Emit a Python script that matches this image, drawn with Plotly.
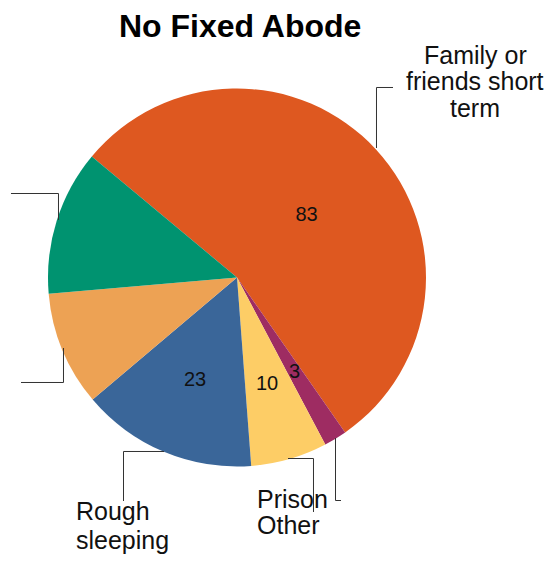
import math
import plotly.graph_objects as go

# ---- data ----
categories = ["Family or friends short term", "Other", "Prison", "Rough sleeping", "Unlabelled A", "Unlabelled B"]
values = [83, 3, 10, 23, 15, 19]
shown_values = ["83", "3", "10", "23", "", ""]
colors = ["#DE5820", "#9E2C62", "#FDCD66", "#3A6699", "#EDA254", "#009370"]
start_angle = -50.2  # degrees clockwise from 12 o'clock

W, H = 560, 562
FONT = "Liberation Sans, Arial, sans-serif"
CX, CY, R = 237, 277.5, 189


def px(x):
    return x / W


def py(y):
    return 1 - y / H


# large slice label uses the pie's own inside text; small slices get labels at mid-angle
pie_text = [shown_values[0]] + [""] * (len(values) - 1)

fig = go.Figure(go.Pie(
    labels=categories,
    values=values,
    text=pie_text,
    textinfo="text",
    textposition="inside",
    insidetextorientation="horizontal",
    textfont=dict(family=FONT, size=20, color="#111111"),
    marker=dict(colors=colors, line=dict(width=0)),
    sort=False,
    direction="clockwise",
    rotation=start_angle,
    showlegend=False,
    hoverinfo="label+value",
    domain=dict(x=[px(CX - R), px(CX + R)], y=[py(CY + R), py(CY - R)]),
))

annotations = []
total = sum(values)
cum = 0
for i, v in enumerate(values):
    mid = start_angle + (cum + v / 2) / total * 360
    cum += v
    if i == 0 or not shown_values[i]:
        continue
    r = 0.58 * R
    x = CX + r * math.sin(math.radians(mid))
    y = CY - r * math.cos(math.radians(mid))
    annotations.append(dict(text=shown_values[i], x=px(x), y=py(y),
                            font=dict(size=20, family=FONT, color="#111"),
                            xanchor="center", yanchor="middle"))

annotations.append(dict(text="<b>No Fixed Abode</b>", x=px(240), y=py(26),
                        font=dict(size=32, family=FONT, color="#000"),
                        xanchor="center", yanchor="middle"))

LS = 25
label_lines = [
    ("Family or", 475, 63.5, "center"),
    ("friends short", 475, 90, "center"),
    ("term", 475, 116.5, "center"),
    ("Rough", 74, 520, "left"),
    ("sleeping", 74, 549, "left"),
    ("Prison", 255, 508, "left"),
    ("Other", 255, 534, "left"),
]
for txt, x, base, anchor in label_lines:
    annotations.append(dict(text=txt, x=px(x), y=py(base - 0.35 * LS),
                            font=dict(size=LS, family=FONT, color="#111"),
                            xanchor=anchor, yanchor="middle"))

for a in annotations:
    a.update(xref="paper", yref="paper", showarrow=False)

leaders = [
    [(376.5, 148), (376.5, 87.5), (393, 87.5)],
    [(58.5, 220), (58.5, 193.5), (11, 193.5)],
    [(63.5, 348), (63.5, 382.5), (21, 382.5)],
    [(164, 451.5), (123.5, 451.5), (123.5, 501)],
    [(288, 458.5), (313.5, 458.5), (313.5, 512)],
    [(335.5, 438), (335.5, 500.5), (341, 500.5)],
]
shapes = []
for pts in leaders:
    path = "M " + " L ".join(f"{px(x):.5f},{py(y):.5f}" for x, y in pts)
    shapes.append(dict(type="path", path=path, xref="paper", yref="paper",
                       line=dict(color="#333333", width=1)))

fig.update_layout(
    width=W, height=H,
    margin=dict(l=0, r=0, t=0, b=0),
    paper_bgcolor="white",
    plot_bgcolor="white",
    annotations=annotations,
    shapes=shapes,
    font=dict(family=FONT),
)

fig.write_html(
    "out.html",
    config={"displayModeBar": False},
    post_script="document.body.style.margin='0';document.body.style.overflow='hidden';",
)
